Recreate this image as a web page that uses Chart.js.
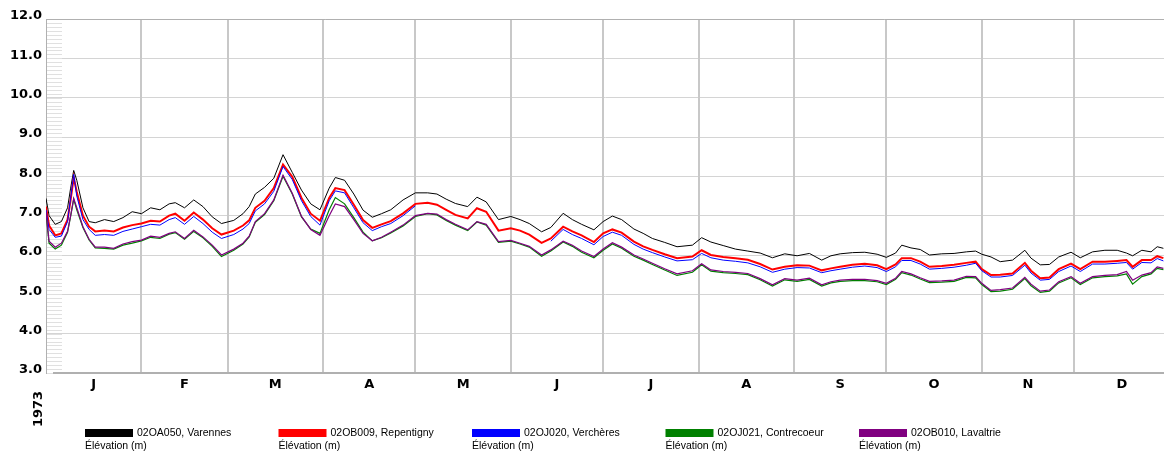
<!DOCTYPE html>
<html><head><meta charset="utf-8">
<script src="https://cdn.jsdelivr.net/npm/chart.js@4/dist/chart.umd.min.js"></script>
<style>html,body{margin:0;padding:0;background:#fff;overflow:hidden}canvas{display:block}</style>
</head><body>
<canvas id="c" width="1164" height="453"></canvas>
<script>
// Day of year (0 = 1 Jan 1973)
const days = [0,1,3,5,7,8,9,10,12,14,
16,19,22,25,28,31,34,37,40,42,
45,48,51,54,57,61,64,66,68,71,
74,77,80,83,86,89,92,94,97,100,
103,106,109,112,116,120,124,127,130,133,
137,140,143,147,151,154,157,161,164,168,
171,174,178,181,184,187,191,194,197,201,
205,210,213,216,220,224,228,232,236,240,
244,248,252,255,258,262,266,270,273,276,
278,281,284,287,291,295,299,302,304,307,
310,314,318,320,323,326,329,333,336,340,
344,348,351,353,356,359,361,363];

const varennes = [7.44,7.0,6.78,6.85,7.2,7.7,8.15,7.9,7.2,6.85,
6.82,6.9,6.85,6.95,7.1,7.05,7.2,7.15,7.3,7.33,
7.2,7.4,7.23,6.97,6.8,6.88,7.05,7.23,7.55,7.72,
7.95,8.55,8.1,7.65,7.3,7.15,7.7,7.97,7.9,7.55,
7.14,6.96,7.05,7.15,7.4,7.58,7.58,7.55,7.42,7.31,
7.23,7.47,7.35,6.9,6.98,6.9,6.8,6.59,6.7,7.06,
6.9,6.78,6.64,6.85,6.99,6.9,6.66,6.55,6.42,6.32,
6.21,6.25,6.44,6.33,6.24,6.15,6.1,6.05,5.93,6.03,
5.98,6.04,5.87,5.98,6.03,6.06,6.07,6.02,5.94,6.05,
6.25,6.18,6.14,6.0,6.03,6.04,6.08,6.1,6.02,5.95,
5.83,5.87,6.12,5.92,5.75,5.76,5.95,6.07,5.93,6.08,
6.12,6.12,6.05,5.98,6.12,6.08,6.21,6.17];

const repentigny = [7.23,6.75,6.5,6.55,6.9,7.4,7.97,7.6,7.0,6.72,
6.6,6.62,6.6,6.7,6.76,6.8,6.87,6.85,7.0,7.05,
6.87,7.08,6.9,6.68,6.52,6.62,6.75,6.88,7.2,7.38,
7.7,8.3,7.99,7.45,7.05,6.87,7.45,7.7,7.65,7.28,
6.89,6.69,6.78,6.86,7.06,7.3,7.33,7.28,7.15,7.02,
6.93,7.19,7.1,6.62,6.68,6.62,6.52,6.31,6.42,6.72,
6.6,6.5,6.33,6.55,6.65,6.57,6.34,6.22,6.13,6.02,
5.92,5.96,6.12,6.0,5.95,5.92,5.88,5.77,5.63,5.7,
5.74,5.73,5.61,5.66,5.7,5.75,5.78,5.74,5.64,5.76,
5.92,5.92,5.83,5.7,5.72,5.75,5.8,5.83,5.64,5.49,
5.5,5.53,5.8,5.6,5.41,5.43,5.64,5.78,5.64,5.83,
5.83,5.85,5.87,5.7,5.87,5.87,5.97,5.92];

const vercheres = [7.15,6.65,6.45,6.48,6.85,7.45,8.05,7.5,6.9,6.65,
6.5,6.52,6.5,6.6,6.66,6.72,6.78,6.76,6.9,6.95,
6.78,6.98,6.8,6.58,6.42,6.52,6.66,6.8,7.12,7.3,
7.62,8.25,7.92,7.38,6.98,6.76,7.38,7.63,7.58,7.2,
6.82,6.62,6.72,6.8,7.0,7.25,null,null,null,null,
null,null,null,null,null,null,null,null,6.35,6.65,
6.52,6.42,6.26,6.47,6.58,6.5,6.27,6.15,6.06,5.95,
5.85,5.88,6.04,5.93,5.87,5.84,5.8,5.7,5.56,5.64,
5.68,5.67,5.55,5.6,5.64,5.69,5.72,5.68,5.58,5.7,
5.86,5.86,5.77,5.64,5.66,5.69,5.74,5.79,5.6,5.44,
5.44,5.48,5.74,5.54,5.36,5.38,5.58,5.72,5.58,5.77,
5.77,5.79,5.81,5.64,5.81,5.8,5.91,5.85];

const contrecoeur = [7.05,6.3,6.15,6.25,6.58,6.98,7.42,7.15,6.7,6.38,
6.18,6.17,6.15,6.25,6.3,6.36,6.45,6.42,6.53,6.57,
6.4,6.6,6.44,6.22,5.96,6.12,6.28,6.46,6.83,7.03,
7.38,8.0,7.55,6.97,6.66,6.55,7.15,7.46,7.3,6.95,
6.58,6.36,6.44,6.56,6.74,6.98,7.05,7.02,6.88,6.76,
6.62,6.84,6.76,6.32,6.35,6.28,6.2,5.97,6.1,6.33,
6.22,6.07,5.93,6.12,6.28,6.17,5.97,5.87,5.76,5.62,
5.48,5.56,5.75,5.59,5.55,5.53,5.5,5.37,5.21,5.37,
5.33,5.38,5.21,5.29,5.33,5.35,5.35,5.32,5.25,5.38,
5.55,5.49,5.39,5.3,5.31,5.33,5.43,5.42,5.25,5.07,
5.08,5.13,5.4,5.22,5.05,5.08,5.29,5.42,5.25,5.42,
5.45,5.47,5.52,5.26,5.45,5.52,5.66,5.63];

const lavaltrie = [7.1,6.35,6.2,6.3,6.6,7.0,7.44,7.2,6.72,6.4,
6.2,6.2,6.17,6.28,6.34,6.38,6.48,6.45,6.55,6.59,
6.42,6.63,6.46,6.25,6.0,6.15,6.3,6.48,6.85,7.05,
7.4,8.03,7.57,6.98,6.65,6.5,7.0,7.3,7.23,6.9,
6.55,6.36,6.45,6.58,6.76,7.0,7.06,7.04,6.9,6.78,
6.64,6.85,6.78,6.34,6.37,6.3,6.22,6.0,6.13,6.35,
6.25,6.1,5.96,6.15,6.31,6.2,6.0,5.9,5.79,5.65,
5.52,5.6,5.78,5.62,5.58,5.56,5.53,5.4,5.24,5.4,
5.36,5.41,5.24,5.32,5.36,5.38,5.38,5.35,5.28,5.41,
5.58,5.52,5.42,5.33,5.34,5.36,5.46,5.45,5.28,5.1,
5.12,5.16,5.43,5.26,5.08,5.11,5.32,5.45,5.28,5.45,
5.48,5.5,5.58,5.36,5.49,5.55,5.7,5.66];

const monthLabels = ['J','F','M','A','M','J','J','A','S','O','N','D'];
const monthStarts = [0,31,59,90,120,151,181,212,243,273,304,334];
const monthLengths = [31,28,31,30,31,30,31,31,30,31,30,31];
const yTicks = [3,4,5,6,7,8,9,10,11,12];
const yearLabel = '1973';
const seriesNames = ['02OA050, Varennes','02OB009, Repentigny','02OJ020, Verchères','02OJ021, Contrecoeur','02OB010, Lavaltrie'];
const seriesUnit = 'Élévation (m)';
const seriesColors = ['#000000','#ff0000','#0000ff','#008000','#800080'];
const seriesValues = [varennes, repentigny, vercheres, contrecoeur, lavaltrie];

const BOLD = 'bold 13px "DejaVu Sans", Arial, sans-serif';
const monthCenters = monthStarts.map((s,i)=>s+monthLengths[i]/2);

const widths = [1,2,1,1.2,1.2];
const orders = [5,4,3,2,1];
const datasets = seriesValues.map((vals,i)=>({
  label: seriesNames[i],
  data: days.map((d,j)=>({x:d, y:vals[j]})),
  borderColor: seriesColors[i],
  backgroundColor: seriesColors[i],
  borderWidth: widths[i],
  pointRadius: 0,
  tension: 0,
  spanGaps: false,
  order: orders[i],
  xAxisID: 'x'
}));

const decor = {
  id: 'decor',
  beforeDatasetsDraw(chart){
    const {ctx, chartArea:a, scales:{y}} = chart;
    ctx.save();
    ctx.strokeStyle = '#e0e0e0';
    ctx.lineWidth = 1;
    for (let k = 30; k <= 120; k++){
      const py = Math.round(y.getPixelForValue(k/10)) + 0.5;
      ctx.beginPath(); ctx.moveTo(a.left+1, py); ctx.lineTo(a.left+16, py); ctx.stroke();
    }
    ctx.strokeStyle = '#b0b0b0';
    ctx.beginPath(); ctx.moveTo(a.left, a.top+0.5); ctx.lineTo(a.right, a.top+0.5); ctx.stroke();
    ctx.lineWidth = 2;
    ctx.beginPath(); ctx.moveTo(a.left+7, a.bottom); ctx.lineTo(a.right, a.bottom); ctx.stroke();
    ctx.restore();
  },
  afterDraw(chart){
    const {ctx} = chart;
    ctx.save();
    ctx.fillStyle = '#000';
    ctx.font = BOLD;
    ctx.translate(39, 409);
    ctx.rotate(-Math.PI/2);
    ctx.textAlign = 'center';
    ctx.textBaseline = 'middle';
    ctx.fillText(yearLabel, 0, 0);
    ctx.restore();
    ctx.save();
    ctx.font = '10.5px "Liberation Sans", Arial, sans-serif';
    ctx.textBaseline = 'middle';
    ctx.textAlign = 'left';
    seriesNames.forEach((n,i)=>{
      const lx = 85 + i*193.5;
      ctx.fillStyle = seriesColors[i];
      ctx.fillRect(lx, 429, 48, 8);
      ctx.fillStyle = '#000';
      ctx.fillText(n, lx+52, 433.5);
      ctx.fillText(seriesUnit, lx, 446);
    });
    ctx.restore();
  }
};

new Chart(document.getElementById('c'), {
  type: 'line',
  data: { datasets },
  options: {
    responsive: false,
    animation: false,
    events: [],
    layout: { padding: { top: 19, right: 0, left: 0, bottom: 0 } },
    plugins: { legend: { display: false }, tooltip: { enabled: false } },
    scales: {
      y: {
        type: 'linear', min: 3, max: 12,
        afterBuildTicks: s => { s.ticks = yTicks.map(v=>({value:v})); },
        afterFit: s => { s.width = 46; },
        ticks: { callback: v => Number(v).toFixed(1), font: { family: '"DejaVu Sans", Arial', size: 13, weight: 'bold' }, color: '#000', padding: 4, labelOffset: -3 },
        grid: { color: '#d4d4d4', lineWidth: 1, drawTicks: false },
        border: { display: true, color: '#b0b0b0', width: 1 }
      },
      x: {
        type: 'linear', position: 'bottom', min: 0, max: 363.2, weight: 2,
        afterBuildTicks: s => { s.ticks = monthStarts.slice(1).map(v=>({value:v})); },
        afterFit: s => { s.height = 0; },
        ticks: { display: false },
        grid: { color: '#c8c8c8', lineWidth: 2, drawTicks: false },
        border: { display: false }
      },
      xm: {
        type: 'linear', position: 'bottom', min: 0, max: 363.2, weight: 1,
        afterBuildTicks: s => { s.ticks = monthCenters.map(v=>({value:v})); },
        afterFit: s => { s.height = 80; },
        ticks: { autoSkip: false, maxRotation: 0, callback: (v, i) => monthLabels[i], font: { family: '"DejaVu Sans", Arial', size: 13, weight: 'bold' }, color: '#000', padding: 4 },
        grid: { display: false, drawTicks: false },
        border: { display: false }
      }
    }
  },
  plugins: [decor]
});
</script>
</body></html>
